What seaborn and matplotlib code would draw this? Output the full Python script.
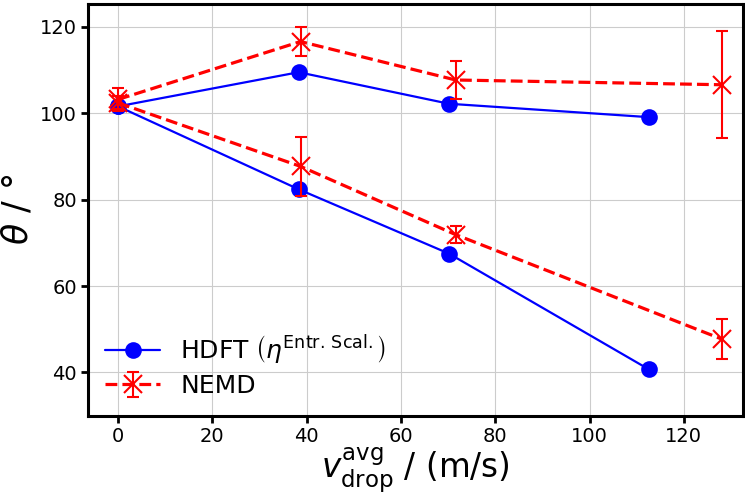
import matplotlib
matplotlib.use("Agg")
import matplotlib.pyplot as plt
import seaborn as sns
import pandas as pd

# --- data ---
hdft_v = [0, 38.3, 70.2, 112.6]
hdft_theta_adv = [101.6, 109.5, 102.2, 99.1]
hdft_theta_rec = [101.6, 82.4, 67.5, 40.7]

nemd_v = [0, 38.7, 71.6, 128.1]
nemd_theta_adv = [103.2, 116.6, 107.7, 106.6]
nemd_err_adv = [2.7, 3.4, 4.3, 12.4]
nemd_theta_rec = [102.4, 87.7, 71.9, 47.7]
nemd_err_rec = [1.5, 6.8, 1.9, 4.7]

sns.set_theme(style="whitegrid")
plt.rcParams['font.family'] = ['DejaVu Sans']
plt.rcParams['text.color'] = 'black'
plt.rcParams['axes.labelcolor'] = 'black'
plt.rcParams['xtick.color'] = 'black'
plt.rcParams['ytick.color'] = 'black'

fig, ax = plt.subplots(figsize=(7.45, 4.96), dpi=100)

hdft = pd.DataFrame({
    'v': hdft_v * 2,
    'theta': hdft_theta_adv + hdft_theta_rec,
    'branch': ['adv'] * 4 + ['rec'] * 4,
})
for i, (name, grp) in enumerate(hdft.groupby('branch')):
    sns.lineplot(data=grp, x='v', y='theta', ax=ax, color='blue', marker='o',
                 markersize=12, markeredgewidth=0, linewidth=1.6, sort=False,
                 label=r'HDFT $\left(\eta^{\mathrm{Entr.\,Scal.}}\right)$' if i == 0 else None)

for i, (th, er) in enumerate([(nemd_theta_adv, nemd_err_adv), (nemd_theta_rec, nemd_err_rec)]):
    ax.errorbar(nemd_v, th, yerr=er, color='red', marker='x', markersize=13,
                markeredgewidth=1.5, linestyle='--', linewidth=2.3, capsize=4,
                elinewidth=1.5, capthick=1.5, label='NEMD' if i == 0 else None)

ax.set_xlim(-6.4, 132.5)
ax.set_ylim(30, 125.3)
ax.set_xticks([0, 20, 40, 60, 80, 100, 120])
ax.set_yticks([40, 60, 80, 100, 120])
ax.set_xlabel(r'$v_{\mathrm{drop}}^{\mathrm{avg}}$ / (m/s)', fontsize=23.5, labelpad=0)
ax.set_ylabel(r'$\theta$ / °', fontsize=25)
ax.tick_params(axis='both', labelsize=14, direction='out', length=5, width=2,
               color='black', left=True, bottom=True, pad=3)
for s in ax.spines.values():
    s.set_color('black')
    s.set_linewidth(2.2)
ax.grid(True, color='#cccccc', linewidth=0.8)

ax.legend(loc='lower left', fontsize=18, frameon=False, handlelength=2.2,
          borderaxespad=0.3, labelspacing=0.3)

fig.subplots_adjust(left=0.118, right=0.997, top=0.992, bottom=0.162)
fig.savefig('out.png', dpi=100)
